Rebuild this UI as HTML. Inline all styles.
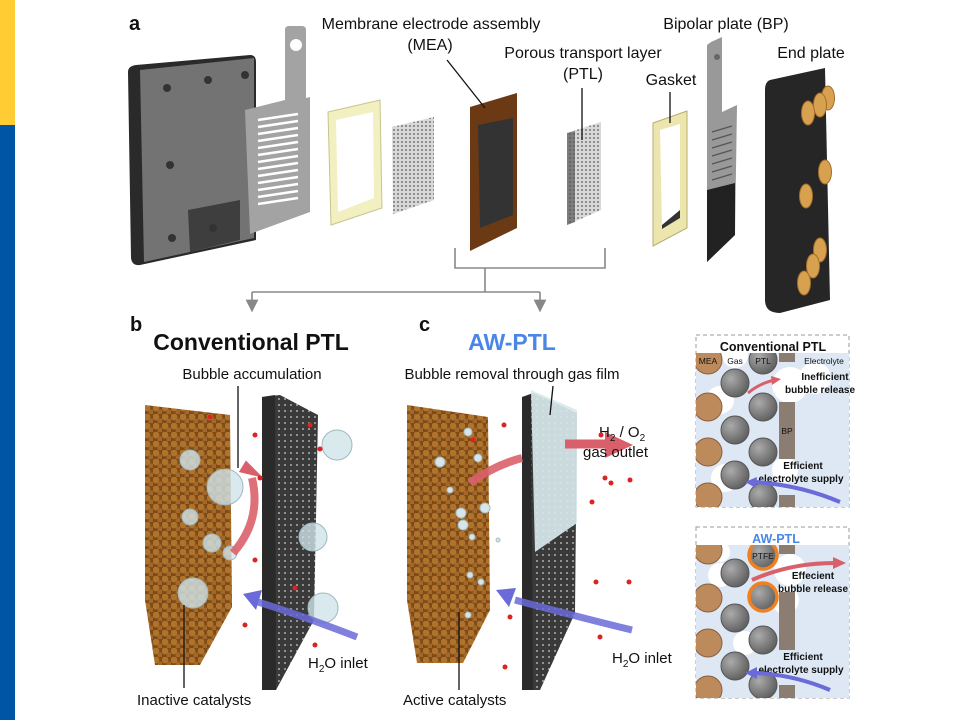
<!DOCTYPE html>
<html><head><meta charset="utf-8"><style>
html,body{margin:0;padding:0;background:#fff}
svg{display:block}
text{font-family:"Liberation Sans",sans-serif;fill:#111}
.b{font-weight:bold}
</style></head><body>
<svg width="960" height="720" viewBox="0 0 960 720" xmlns="http://www.w3.org/2000/svg">
<defs>
<pattern id="cat" width="9" height="9" patternUnits="userSpaceOnUse">
<rect width="9" height="9" fill="#7d4b17"/>
<circle cx="3" cy="3" r="3.4" fill="#b0732c"/><circle cx="7.5" cy="7.5" r="3" fill="#a4672a"/>
</pattern>
<pattern id="mesh" width="6" height="6" patternUnits="userSpaceOnUse">
<rect width="6" height="6" fill="#3a3a3a"/><circle cx="3" cy="3" r="0.9" fill="#cfcfcf"/>
</pattern>
<pattern id="ptl" width="4" height="4" patternUnits="userSpaceOnUse">
<rect width="4" height="4" fill="#d8d8d8"/><circle cx="2" cy="2" r="1" fill="#777"/>
</pattern>
<marker id="ag" markerWidth="8" markerHeight="8" refX="4" refY="4" orient="auto"><path d="M0,0 L8,4 L0,8 Z" fill="#888"/></marker>
<radialGradient id="gb" cx="35%" cy="35%" r="70%"><stop offset="0" stop-color="#ababab"/><stop offset="1" stop-color="#5e5e5e"/></radialGradient>
<clipPath id="c1"><rect x="696" y="353" width="153" height="154"/></clipPath>
<clipPath id="c2"><rect x="696" y="545" width="153" height="153"/></clipPath>
</defs>

<rect x="0" y="0" width="15" height="125" fill="#ffcc33"/>
<rect x="0" y="125" width="15" height="595" fill="#0055a5"/>

<!-- Panel a -->
<text x="129" y="30" class="b" font-size="20">a</text>
<path d="M128,72 Q128,66 136,65 L250,55 Q256,55 256,62 L256,240 L140,265 Q132,266 131,258 Z" fill="#2a2a2a"/>
<path d="M140,70 L254,58 L254,238 L144,262 Z" fill="#737373"/>
<path d="M188,210 L240,200 L240,240 L190,252 Z" fill="#3e3e3e"/>
<circle cx="167" cy="88" r="4" fill="#333"/><circle cx="208" cy="80" r="4" fill="#333"/><circle cx="245" cy="75" r="4" fill="#333"/>
<circle cx="170" cy="165" r="4" fill="#333"/><circle cx="172" cy="238" r="4" fill="#333"/><circle cx="213" cy="228" r="4" fill="#333"/>
<path d="M285,30 Q285,26 289,26 L302,26 Q306,26 306,30 L306,98 L310,97 L310,212 L250,234 L245,110 L285,100 Z" fill="#a3a3a3"/>
<circle cx="296" cy="45" r="6" fill="#fff"/>
<g stroke="#fff" stroke-width="2.6">
<line x1="258" y1="120" x2="298" y2="114"/><line x1="258" y1="127" x2="298" y2="121"/><line x1="258" y1="134" x2="298" y2="128"/><line x1="258" y1="141" x2="298" y2="135"/><line x1="258" y1="148" x2="298" y2="142"/><line x1="258" y1="155" x2="298" y2="149"/><line x1="258" y1="162" x2="298" y2="156"/><line x1="258" y1="169" x2="298" y2="163"/><line x1="258" y1="176" x2="298" y2="170"/><line x1="258" y1="183" x2="298" y2="177"/><line x1="258" y1="190" x2="298" y2="184"/><line x1="258" y1="197" x2="298" y2="191"/><line x1="258" y1="204" x2="298" y2="198"/>
</g>
<path d="M328,112 L380,100 L382,208 L331,225 Z" fill="#f2efc0" stroke="#c9c48c"/>
<path d="M336,120 L373,112 L374,198 L338,212 Z" fill="#fff"/>
<path d="M392,127 L434,117 L434,200 L393,214 Z" fill="url(#ptl)"/>
<path d="M470,107 L517,93 L517,228 L470,251 Z" fill="#6b3a14"/>
<path d="M478,125 L513,118 L513,215 L480,228 Z" fill="#333"/>
<path d="M567,133 L601,122 L601,210 L567,225 Z" fill="url(#ptl)"/>
<path d="M567,133 L575,131 L575,222 L567,225 Z" fill="#555" opacity=".7"/>
<path d="M653,123 L687,111 L687,228 L653,246 Z" fill="#ece6ae" stroke="#b5ad70"/>
<path d="M660,130 L680,124 L680,218 L662,229 Z" fill="#fff"/>
<path d="M662,225 L680,210 L680,218 L662,229 Z" fill="#333"/>
<path d="M711,42 L722,37 L722,112 L737,105 L735,235 L707,262 L707,45 Z" fill="#999"/>
<path d="M707,190 L735,183 L735,235 L707,262 Z" fill="#222"/>
<g stroke="#555" stroke-width="1.3"><line x1="712" y1="132" x2="732" y2="126"/><line x1="712" y1="140" x2="732" y2="134"/><line x1="712" y1="148" x2="732" y2="142"/><line x1="712" y1="156" x2="732" y2="150"/><line x1="712" y1="164" x2="732" y2="158"/><line x1="712" y1="172" x2="732" y2="166"/><line x1="712" y1="180" x2="732" y2="174"/></g>
<circle cx="717" cy="57" r="3" fill="#666"/>
<path d="M770,80 L825,68 L830,300 L780,313 Q765,313 765,300 L765,90 Q765,82 770,80 Z" fill="#262626"/>
<g fill="#d8a150" stroke="#a46e2a">
<ellipse cx="828" cy="98" rx="6.5" ry="12"/><ellipse cx="820" cy="105" rx="6.5" ry="12"/><ellipse cx="808" cy="113" rx="6.5" ry="12"/>
<ellipse cx="825" cy="172" rx="6.5" ry="12"/><ellipse cx="806" cy="196" rx="6.5" ry="12"/>
<ellipse cx="820" cy="250" rx="6.5" ry="12"/><ellipse cx="813" cy="266" rx="6.5" ry="12"/><ellipse cx="804" cy="283" rx="6.5" ry="12"/>
</g>
<g font-size="16" text-anchor="middle">
<text x="431" y="29">Membrane electrode assembly</text>
<text x="430" y="50">(MEA)</text>
<text x="583" y="58">Porous transport layer</text>
<text x="583" y="79">(PTL)</text>
<text x="726" y="29">Bipolar plate (BP)</text>
<text x="811" y="58">End plate</text>
<text x="671" y="85">Gasket</text>
</g>
<g stroke="#111" stroke-width="1.3">
<line x1="447" y1="60" x2="485" y2="108"/><line x1="582" y1="88" x2="582" y2="140"/><line x1="670" y1="92" x2="670" y2="123"/>
</g>
<g stroke="#888" stroke-width="1.6" fill="none">
<path d="M455,248 L455,268 L605,268 L605,248"/><line x1="485" y1="268" x2="485" y2="292"/>
<path d="M252,292 L540,292"/>
<line x1="252" y1="292" x2="252" y2="306" marker-end="url(#ag)"/>
<line x1="540" y1="292" x2="540" y2="306" marker-end="url(#ag)"/>
</g>

<!-- Panel b -->
<text x="130" y="331" class="b" font-size="20">b</text>
<text x="251" y="350" class="b" font-size="23" text-anchor="middle">Conventional PTL</text>
<text x="252" y="379" font-size="15" text-anchor="middle">Bubble accumulation</text>
<path d="M145,405 L230,415 L232,607 L200,665 L155,665 L145,600 Z" fill="url(#cat)"/>
<path d="M262,397 L280,395 L318,415 L314,620 L276,690 L262,690 Z" fill="url(#mesh)"/>
<path d="M262,397 L275,395 L276,690 L262,690 Z" fill="#2a2a2a"/>
<g fill="#cfe4ea" fill-opacity=".8" stroke="#9fb8c0">
<circle cx="190" cy="460" r="10"/><circle cx="225" cy="487" r="18"/><circle cx="190" cy="517" r="8"/><circle cx="212" cy="543" r="9"/><circle cx="193" cy="593" r="15"/><circle cx="230" cy="553" r="7"/>
<circle cx="337" cy="445" r="15"/><circle cx="313" cy="537" r="14"/><circle cx="323" cy="608" r="15"/>
</g>
<path d="M233,553 Q262,520 252,478" stroke="#d9606a" stroke-width="8" fill="none" opacity=".9"/>
<path d="M239,470 L262,480 L248,460 Z" fill="#d9606a" transform="rotate(-10 250 472)"/>
<path d="M357,637 Q300,615 258,602" stroke="#6a6ad8" stroke-width="7" fill="none" opacity=".85"/>
<path d="M243,594 L262,590 L256,610 Z" fill="#6a6ad8"/>
<g stroke="#111" stroke-width="1.3"><line x1="238" y1="386" x2="238" y2="468"/><line x1="184" y1="605" x2="184" y2="688"/></g>
<text x="308" y="668" font-size="15">H<tspan font-size="10" dy="4">2</tspan><tspan dy="-4">O inlet</tspan></text>
<text x="137" y="705" font-size="15">Inactive catalysts</text>
<g fill="#d22"><circle cx="210" cy="417" r="2.5"/><circle cx="255" cy="435" r="2.5"/><circle cx="310" cy="425" r="2.5"/><circle cx="320" cy="449" r="2.5"/><circle cx="260" cy="478" r="2.5"/><circle cx="255" cy="560" r="2.5"/><circle cx="295" cy="588" r="2.5"/><circle cx="315" cy="645" r="2.5"/><circle cx="245" cy="625" r="2.5"/></g>

<!-- Panel c -->
<text x="419" y="331" class="b" font-size="20">c</text>
<text x="512" y="350" class="b" font-size="23" text-anchor="middle" style="fill:#4a86e8">AW-PTL</text>
<text x="512" y="379" font-size="15" text-anchor="middle">Bubble removal through gas film</text>
<path d="M407,405 L488,417 L490,610 L463,663 L417,663 L407,600 Z" fill="url(#cat)"/>
<path d="M522,397 L533,393 L577,413 L575,613 L540,690 L522,690 Z" fill="url(#mesh)"/>
<path d="M522,397 L531,395 L533,690 L522,690 Z" fill="#2a2a2a"/>
<path d="M531,390 L577,410 L577,523 L535,552 Z" fill="#d8e8ec" opacity=".92"/>
<g fill="#d5e5ea" stroke="#a5bcc2"><circle cx="468" cy="432" r="4"/><circle cx="440" cy="462" r="5"/><circle cx="478" cy="458" r="4"/><circle cx="461" cy="513" r="5"/><circle cx="463" cy="525" r="5"/><circle cx="485" cy="508" r="5"/><circle cx="472" cy="537" r="3"/><circle cx="470" cy="575" r="3"/><circle cx="481" cy="582" r="3"/><circle cx="468" cy="615" r="3"/><circle cx="450" cy="490" r="3"/><circle cx="498" cy="540" r="2"/></g>
<path d="M470,483 Q495,465 522,458" stroke="#d9606a" stroke-width="8" fill="none" opacity=".9"/>
<path d="M565,444 L610,444" stroke="#d9606a" stroke-width="9"/>
<path d="M605,432 L633,445 L605,458 Z" fill="#d9606a"/>
<path d="M632,630 Q590,620 515,600" stroke="#6a6ad8" stroke-width="7" fill="none" opacity=".85"/>
<path d="M496,590 L516,588 L509,607 Z" fill="#6a6ad8"/>
<g stroke="#111" stroke-width="1.3"><line x1="553" y1="386" x2="550" y2="415"/><line x1="459" y1="612" x2="459" y2="690"/></g>
<text x="599" y="437" font-size="15">H<tspan font-size="10" dy="4">2</tspan><tspan dy="-4"> / O</tspan><tspan font-size="10" dy="4">2</tspan></text>
<text x="583" y="457" font-size="15">gas outlet</text>
<text x="612" y="663" font-size="15">H<tspan font-size="10" dy="4">2</tspan><tspan dy="-4">O inlet</tspan></text>
<text x="403" y="705" font-size="15">Active catalysts</text>
<g fill="#d22"><circle cx="504" cy="425" r="2.5"/><circle cx="473" cy="440" r="2.5"/><circle cx="601" cy="435" r="2.5"/><circle cx="605" cy="478" r="2.5"/><circle cx="611" cy="483" r="2.5"/><circle cx="630" cy="480" r="2.5"/><circle cx="592" cy="502" r="2.5"/><circle cx="596" cy="582" r="2.5"/><circle cx="629" cy="582" r="2.5"/><circle cx="505" cy="667" r="2.5"/><circle cx="600" cy="637" r="2.5"/><circle cx="510" cy="617" r="2.5"/></g>

<!-- Inset 1 -->
<rect x="696" y="335" width="153" height="172" fill="#fff" stroke="#999" stroke-dasharray="4,3"/>
<text x="773" y="351" class="b" font-size="12.5" text-anchor="middle">Conventional PTL</text>
<g clip-path="url(#c1)">
<rect x="696" y="353" width="153" height="154" fill="#dde8f4"/>
<g fill="#fff"><circle cx="720" cy="400" r="14"/><circle cx="790" cy="385" r="18"/><circle cx="815" cy="378" r="16"/><circle cx="725" cy="478" r="14"/><circle cx="785" cy="470" r="13"/><circle cx="735" cy="355" r="13"/></g>
<g fill="#bd8a5b" stroke="#8a6040"><circle cx="708" cy="360" r="14"/><circle cx="708" cy="407" r="14"/><circle cx="708" cy="452" r="14"/><circle cx="708" cy="497" r="14"/></g>
<g fill="url(#gb)" stroke="#555"><circle cx="735" cy="383" r="14"/><circle cx="735" cy="430" r="14"/><circle cx="735" cy="475" r="14"/><circle cx="763" cy="360" r="14"/><circle cx="763" cy="407" r="14"/><circle cx="763" cy="452" r="14"/><circle cx="763" cy="497" r="14"/></g>
<g fill="#8c7d72"><rect x="779" y="353" width="16" height="9"/><rect x="779" y="402" width="16" height="57"/><rect x="779" y="495" width="16" height="12"/></g>
</g>
<g font-size="8.5" text-anchor="middle"><text x="708" y="364">MEA</text><text x="735" y="364">Gas</text><text x="763" y="364">PTL</text><text x="824" y="364" fill="#333">Electrolyte</text><text x="787" y="434">BP</text></g>
<g class="b" font-size="10" text-anchor="middle"><text x="825" y="380">Inefficient</text><text x="820" y="393">bubble release</text><text x="803" y="469">Efficient</text><text x="801" y="482">electrolyte supply</text></g>
<path d="M748,393 Q760,383 775,380" stroke="#d9606a" stroke-width="3" fill="none"/><path d="M771,376 L781,379 L772,385 Z" fill="#d9606a"/>
<path d="M840,502 Q800,485 755,482" stroke="#6a6ad8" stroke-width="4" fill="none"/><path d="M745,482 L757,477 L756,488 Z" fill="#6a6ad8"/>

<!-- Inset 2 -->
<rect x="696" y="527" width="153" height="171" fill="#fff" stroke="#999" stroke-dasharray="4,3"/>
<text x="776" y="543" class="b" font-size="12.5" text-anchor="middle" style="fill:#4a86e8">AW-PTL</text>
<g clip-path="url(#c2)">
<rect x="696" y="545" width="153" height="153" fill="#dde8f4"/>
<g fill="#fff"><circle cx="720" cy="575" r="12"/><circle cx="790" cy="570" r="16"/><circle cx="785" cy="600" r="14"/><circle cx="745" cy="643" r="12"/><circle cx="720" cy="552" r="10"/></g>
<g fill="#bd8a5b" stroke="#8a6040"><circle cx="708" cy="550" r="14"/><circle cx="708" cy="598" r="14"/><circle cx="708" cy="643" r="14"/><circle cx="708" cy="690" r="14"/></g>
<g fill="url(#gb)" stroke="#555"><circle cx="735" cy="573" r="14"/><circle cx="735" cy="618" r="14"/><circle cx="735" cy="666" r="14"/><circle cx="763" cy="640" r="14"/><circle cx="763" cy="685" r="14"/></g>
<g fill="url(#gb)" stroke="#f08020" stroke-width="3.5"><circle cx="763" cy="555" r="14"/><circle cx="763" cy="597" r="14"/></g>
<g fill="#8c7d72"><rect x="779" y="545" width="16" height="9"/><rect x="779" y="592" width="16" height="58"/><rect x="779" y="685" width="16" height="13"/></g>
</g>
<text x="763" y="559" font-size="8.5" text-anchor="middle">PTFE</text>
<g class="b" font-size="10" text-anchor="middle"><text x="813" y="579">Effecient</text><text x="813" y="592">bubble release</text><text x="803" y="660">Efficient</text><text x="801" y="673">electrolyte supply</text></g>
<path d="M752,580 Q790,563 835,563" stroke="#d9606a" stroke-width="4" fill="none"/><path d="M833,557 L846,563 L833,569 Z" fill="#d9606a"/>
<path d="M830,690 Q795,675 757,673" stroke="#6a6ad8" stroke-width="4" fill="none"/><path d="M745,673 L757,667 L757,679 Z" fill="#6a6ad8"/>
</svg>
</body></html>
